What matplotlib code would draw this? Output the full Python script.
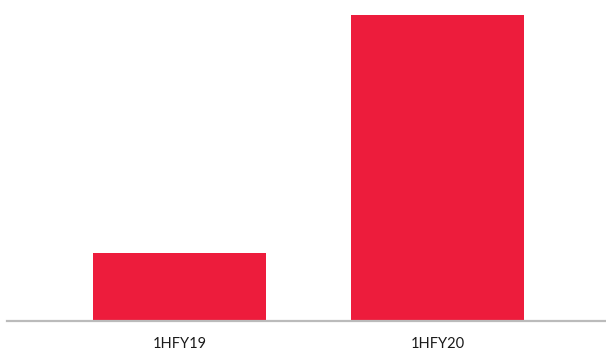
import matplotlib.pyplot as plt

periods = ['1HFY19', '1HFY20']
values = [68, 306]

bar_color = '#ED1C3C'

fig = plt.figure(figsize=(6.06, 3.52), dpi=100)
ax = fig.add_axes([7/606, 1 - 320.5/352, 599/606, 320.5/352])

ax.bar(range(len(periods)), values, width=0.67, color=bar_color)
ax.set_xlim(-0.669, 1.653)
ax.set_ylim(0, 320.5)

for side in ['top', 'right', 'left']:
    ax.spines[side].set_visible(False)
ax.spines['bottom'].set_color('#BBBBBB')
ax.spines['bottom'].set_linewidth(1.6)
ax.set_yticks([])
ax.set_xticks(range(len(periods)))
ax.set_xticklabels(periods, fontsize=10.5, fontfamily='Lato', color='#1a1a1a')
ax.tick_params(axis='x', length=0, pad=12)

fig.savefig('out.png', dpi=100)
